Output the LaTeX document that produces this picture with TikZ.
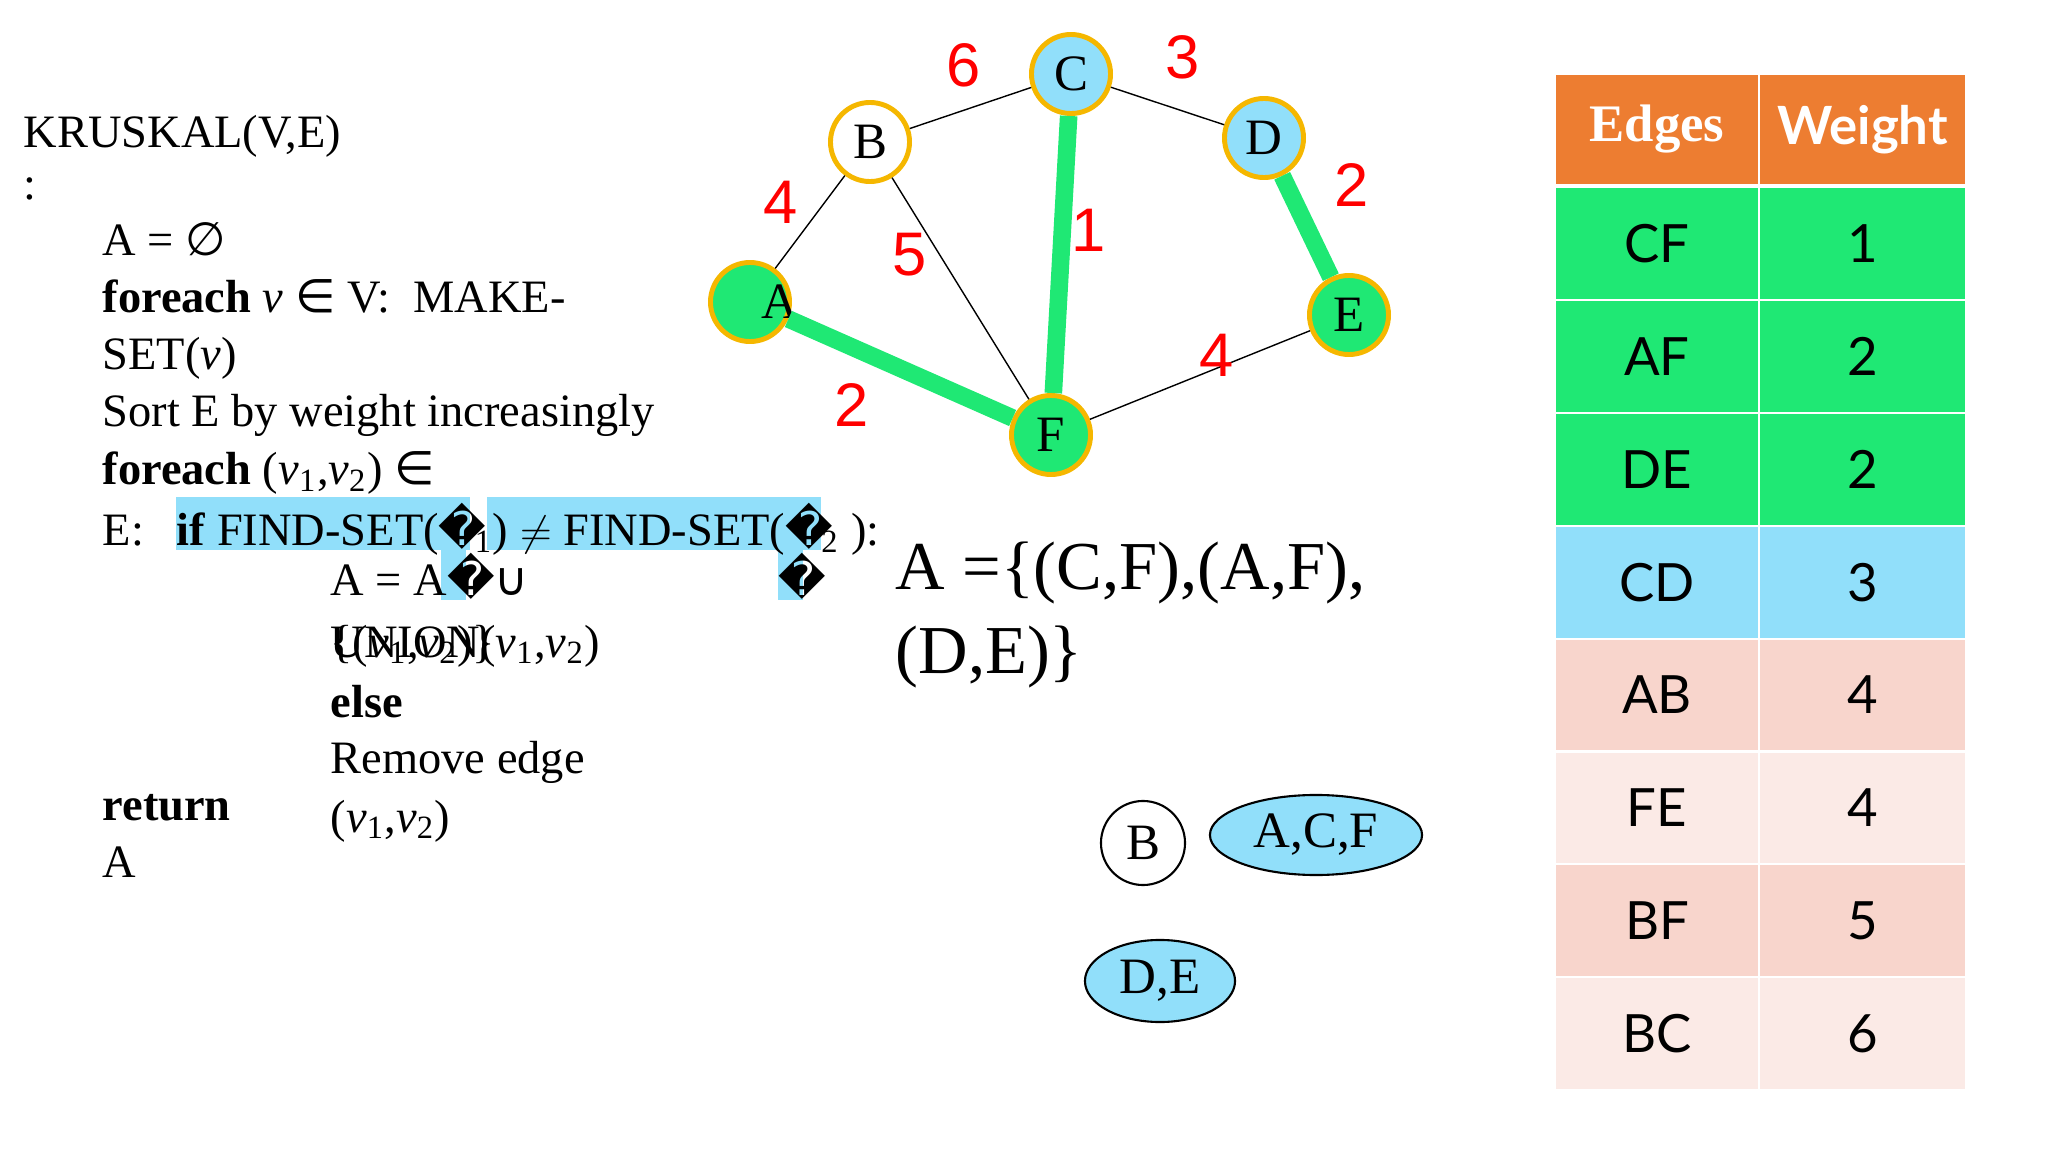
\documentclass[tikz,border=0pt]{standalone}
\usepackage{fontspec}
\setmainfont{Liberation Serif}
\newfontfamily\latofont{Lato}
\newfontfamily\arialfont{Liberation Sans}
\newfontfamily\symfont{DejaVu Sans}
\usetikzlibrary{
    shapes.geometric,
    positioning
}
\definecolor{mstgreen}{HTML}{1FE874}
\definecolor{setblue}{HTML}{91DFFA}
\definecolor{ringgold}{HTML}{F5B700}
\definecolor{headorange}{HTML}{ED7D31}
\definecolor{rowpink}{HTML}{F8D5CC}
\definecolor{rowpale}{HTML}{FBEAE6}
\newcommand{\vfont}{\fontsize{14.5}{17}\selectfont}
\newcommand{\rc}{{\symfont\symbol{"FFFD}}}
\newcommand{\vv}{\textit{v}}
\newcommand{\elem}{{\symfont ∈}}
\tikzset{
    code/.style={anchor=base west, inner sep=0pt, font=\fontsize{13.2}{16}\selectfont},
    vert/.style={circle, draw=ringgold, line width=1.4pt, minimum size=0.79cm, inner sep=0pt, font=\vfont},
    thinedge/.style={line width=0.4pt, draw=black},
    mstedge/.style={line width=5pt, draw=mstgreen},
    wlabel/.style={text=red, inner sep=0pt, font=\arialfont\fontsize{17.5}{20}\selectfont},
    dset/.style={draw=black, line width=0.6pt, inner sep=0pt, font=\vfont},
    cell/.style={rectangle, draw=white, line width=0.6pt, minimum height=1.129cm, inner sep=0pt, font=\latofont\fontsize{15}{18}\selectfont},
    hl/.style={fill=setblue}
}

\begin{document}
\begin{tikzpicture}[x=0.01cm, y=-0.01cm]
    \useasboundingbox (0,0) rectangle (2048,1152);

    % Highlights behind the test line
    \fill[hl] (176,497) rectangle (470,550);
    \fill[hl] (487,497) rectangle (821,550);
    \fill[hl] (441,550) rectangle (466,600);
    \fill[hl] (778,550) rectangle (803,600);

    % Pseudocode
    \node[code] (title) at (23,148) {KRUSKAL(V,E)};
    \node[code] (colon) at (23,200) {:};
    \node[code] (init) at (102,256) {A = {\symfont ∅}};
    \node[code] (mk1) at (102,313) {\textbf{foreach} \vv{} \elem{} V:~~MAKE-};
    \node[code] (mk2) at (102,370) {SET(\vv)};
    \node[code] (sort) at (102,427) {Sort E by weight increasingly};
    \node[code] (loop1) at (102,485) {\textbf{foreach} (\vv\textsubscript{1},\vv\textsubscript{2}) \elem};
    \node[code] (loop2) at (102,546) {E:};
    \node[code] (test) at (176,546) {\textbf{if} FIND-SET(\rc\hspace{-0.25em}\textsubscript{1}) $\neq$ FIND-SET(\rc\hspace{-0.25em}\textsubscript{2} ):};
    \node[code] (add) at (330,595) {A = A\rc{\symfont ∪}};
    \node[code] (stray) at (778,595) {\rc};
    \node[code] (union) at (330,657) {UNION(\vv\textsubscript{1},\vv\textsubscript{2})};
    \node[code] (pair) at (330,657) {\{(\vv\textsubscript{1},\vv\textsubscript{2})\}};
    \node[code] (else) at (330,717) {\textbf{else}};
    \node[code] (rm1) at (330,773) {Remove edge};
    \node[code] (rm2) at (330,832) {(\vv\textsubscript{1},\vv\textsubscript{2})};
    \node[code] (ret1) at (102,820) {\textbf{return}};
    \node[code] (ret2) at (102,877) {A};

    % Graph
    \node[vert, fill=mstgreen, label={[font=\vfont, xshift=0.3cm]center:A}] (A) at (750,302) {};
    \node[vert, fill=white] (B) at (870,142) {B};
    \node[vert, fill=setblue] (C) at (1071,74) {C};
    \node[vert, fill=setblue] (D) at (1264,138) {D};
    \node[vert, fill=mstgreen] (E) at (1349,315) {E};
    \node[vert, fill=mstgreen] (F) at (1051,435) {F};

    \draw[thinedge] (A) -- (B);
    \draw[thinedge] (B) -- (C);
    \draw[thinedge] (B) -- (F);
    \draw[thinedge] (C) -- (D);
    \draw[thinedge] (F) -- (E);
    \draw[mstedge] (C) -- (F);
    \draw[mstedge] (A) -- (F);
    \draw[mstedge] (D) -- (E);

    % Weights
    \node[wlabel] (wBC) at (964,65) {6};
    \node[wlabel] (wCD) at (1183,57) {3};
    \node[wlabel] (wAB) at (781,202) {4};
    \node[wlabel] (wBF) at (910,255) {5};
    \node[wlabel] (wCF) at (1089,230) {1};
    \node[wlabel] (wDE) at (1352,185) {2};
    \node[wlabel] (wAF) at (852,405) {2};
    \node[wlabel] (wFE) at (1217,355) {4};

    % Result set
    \node[code, font=\fontsize{19.5}{24}\selectfont] (mstset) at (895,590) {A =\{(C,F),(A,F),};
    \node[code, font=\fontsize{19.5}{24}\selectfont] (mstrest) at (895,673) {(D,E)\}};

    % Disjoint sets
    \node[dset, circle, fill=white, minimum size=0.84cm] (dsB) at (1143,843) {B};
    \node[dset, ellipse, fill=setblue, minimum width=2.12cm, minimum height=0.8cm] (dsACF) at (1316,835) {A,C,F};
    \node[dset, ellipse, fill=setblue, minimum width=1.5cm, minimum height=0.82cm] (dsDE) at (1160,981) {D,E};

    % Table
    \node[cell, fill=headorange, minimum width=2.04cm, minimum height=1.11cm, text=white, font=\fontsize{15}{18}\selectfont\bfseries] (hE) at (1657,129.5) {Edges};
    \node[cell, fill=headorange, minimum width=2.07cm, minimum height=1.11cm, text=white, font=\latofont\fontsize{15}{18}\selectfont\bfseries] (hW) at (1862.5,129.5) {Weight};
    \foreach \edg/\wt/\clr [count=\i] in {CF/1/mstgreen, AF/2/mstgreen, DE/2/mstgreen, CD/3/setblue, AB/4/rowpink, FE/4/rowpale, BF/5/rowpink, BC/6/rowpale}{
        \node[cell, fill=\clr, minimum width=2.04cm] (e\i) at (1657,{130.55+112.9*\i}) {\edg};
        \node[cell, fill=\clr, minimum width=2.07cm] (w\i) at (1862.5,{130.55+112.9*\i}) {\wt};
    }
\end{tikzpicture}
\end{document}
